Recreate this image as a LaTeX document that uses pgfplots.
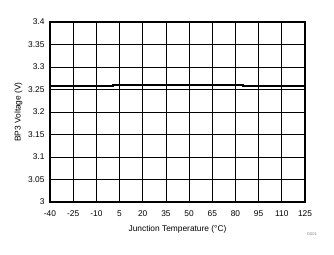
\documentclass[border=0pt]{standalone}
\usepackage{pgfplots}
\pgfplotsset{compat=1.18}
\usepackage{fontspec}
\setmainfont{Liberation Sans}
\begin{document}
\begin{tikzpicture}
\path[use as bounding box] (-50bp,-53bp) rectangle (284bp,202bp);
\begin{axis}[
  at={(0,0)}, anchor=south west,
  scale only axis, width=255bp, height=180bp,
  xmin=-40, xmax=125, ymin=3, ymax=3.4,
  xtick={-40,-25,...,125},
  ytick={3,3.05,...,3.4},
  yticklabels={3,3.05,3.1,3.15,3.2,3.25,3.3,3.35,3.4},
  grid=major, major grid style={black, line width=0.8pt},
  major tick length=0pt,
  axis line style={line width=1.6pt},
  tick label style={font=\fontsize{8.4}{10}\selectfont},
  /pgf/number format/assume math mode=true,
  xticklabel style={yshift=-5.5pt},
  yticklabel style={xshift=-2pt},
  xlabel={Junction Temperature (\textdegree C)},
  ylabel={BP3 Voltage (V)},
  label style={font=\fontsize{8.4}{10}\selectfont},
  xlabel style={yshift=-1.5pt},
  ylabel style={yshift=-1pt},
]
\addplot[black, line width=2pt] coordinates {
(-40,3.257) (-19.5,3.257) (-19.5,3.2585) (1,3.2585) (1,3.2602) (85,3.2602) (85,3.2585) (105.5,3.2585) (105.5,3.257) (125,3.257)};
\end{axis}
\node[font=\fontsize{4}{5}\selectfont, text=gray] at (262bp,-32bp) {D001};
\end{tikzpicture}
\end{document}
